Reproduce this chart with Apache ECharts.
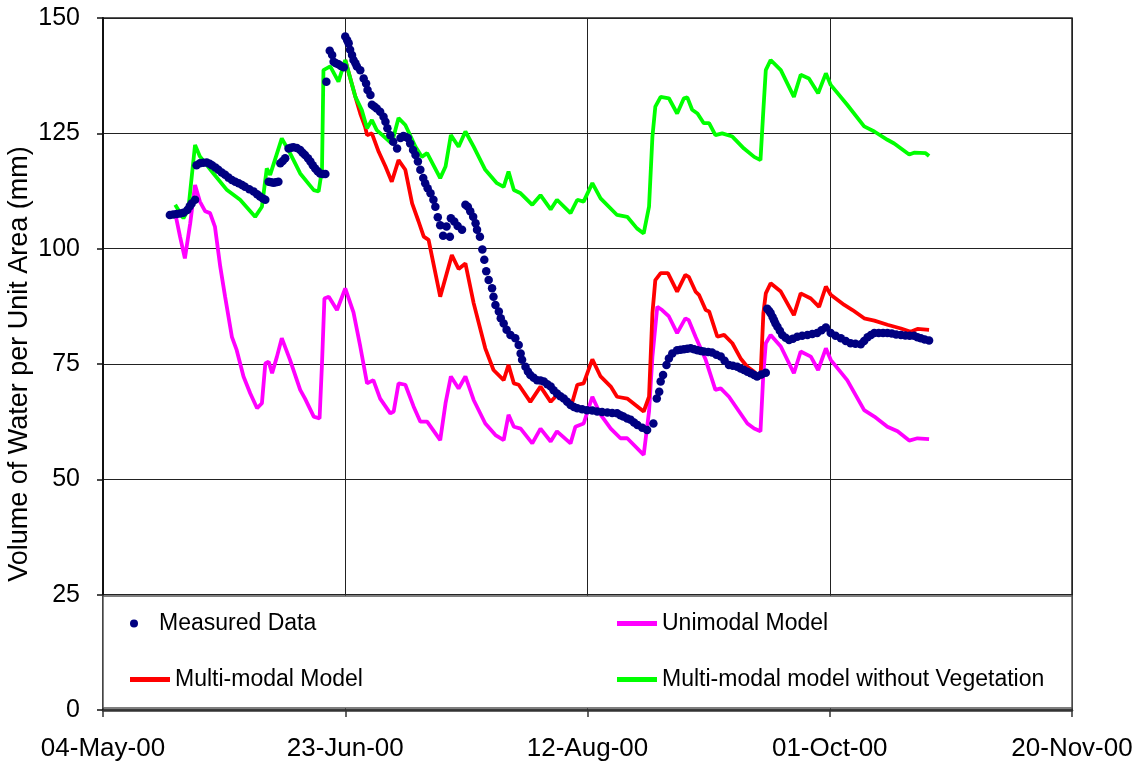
<!DOCTYPE html>
<html>
<head>
<meta charset="utf-8">
<script src="https://cdn.jsdelivr.net/npm/echarts@6/dist/echarts.min.js"></script>
<style>
html,body{margin:0;padding:0;background:#fff;}
#chart{width:1140px;height:765px;}
</style>
</head>
<body>
<div id="chart"></div>
<script>
// x values are days after 04-May-2000
var xTickLabels = ['04-May-00', '23-Jun-00', '12-Aug-00', '01-Oct-00', '20-Nov-00'];
var seriesNames = ['Measured Data', 'Unimodal Model', 'Multi-modal Model', 'Multi-modal model without Vegetation'];

var measured = [
[13.8,107.3],[14.5,107.4],[15.2,107.5],[15.9,107.6],[16.6,107.8],[17.4,108.4],[17.9,109.2],[18.3,109.8],[19.0,110.6],
[19.3,118.1],[20.0,118.5],[20.7,118.6],[21.4,118.7],[22.0,118.4],[22.5,118.1],[23.2,117.6],[23.8,117.1],[24.5,116.5],[25.2,116.0],[25.9,115.4],[26.6,114.9],[27.3,114.5],[28.0,114.2],[28.7,113.8],[29.3,113.4],[30.2,112.9],[31.1,112.4],[31.8,111.8],[32.4,111.3],[33.0,110.9],[33.5,110.6],
[34.2,114.5],[34.7,114.4],[35.2,114.3],[35.7,114.4],[36.2,114.5],
[36.6,118.5],[37.1,119.0],[37.6,119.6],[38.3,121.7],[38.8,121.9],[39.3,122.0],[40.0,121.8],[40.7,121.4],[41.2,120.8],[41.7,120.3],[42.3,119.6],[42.8,118.9],[43.3,118.1],[43.8,117.4],[44.3,116.8],[44.8,116.3],[45.4,116.2],[45.9,116.2],
[46.1,136.2],[46.8,142.9],[47.3,142.0],[47.6,140.5],[48.1,140.2],[48.6,140.0],[49.1,139.6],[49.7,139.3],
[50.0,146.0],[50.4,145.2],[50.7,144.5],[51.0,143.1],[51.4,142.0],[51.7,140.9],[52.1,140.2],[52.4,139.5],[53.1,138.7],[53.8,136.9],[54.3,135.8],[54.6,134.4],[55.2,133.3],[55.5,131.2],[56.0,130.8],[56.5,130.4],[57.2,129.7],[57.9,128.6],[58.3,127.5],[58.7,126.1],[59.3,124.6],[59.9,123.2],[60.7,121.7],
[61.4,124.0],[62.0,124.4],[62.5,124.2],[62.9,124.0],[63.4,122.8],[64.0,121.4],[64.5,120.3],[65.0,118.9],[65.5,117.1],[66.1,115.3],[66.5,114.2],[67.0,113.1],[67.6,112.0],[68.2,110.6],[68.6,109.1],[69.1,106.8],[69.6,105.1],[70.2,102.8],
[70.9,104.8],[71.6,102.6],[71.8,106.6],[72.5,105.9],[73.2,104.9],[74.1,104.1],
[74.8,109.5],[75.3,109.1],[75.8,108.1],[76.4,106.9],[76.9,105.5],[77.2,104.1],[77.8,102.6],[78.3,99.8],[78.7,97.6],[79.1,95.1],[79.6,93.2],[80.3,91.4],[80.6,89.6],[81.0,87.8],[81.7,86.4],[82.1,84.9],[82.7,83.8],[83.3,82.4],[84.1,81.3],[85.1,80.6],[85.8,79.1],[86.2,77.3],[86.5,75.9],[87.2,74.4],[87.7,73.4],[88.2,72.6],[88.9,72.0],[89.6,71.5],[90.3,71.4],[91.0,71.2],[91.7,70.6],[92.4,70.1],[93.0,69.3],[93.7,68.6],[94.4,68.0],[95.1,67.5],[95.8,66.8],[96.5,66.1],[97.2,65.7],[97.9,65.4],[98.9,65.2],[99.9,65.0],[101.0,64.9],[102.0,64.7],[103.0,64.6],[104.1,64.5],[105.1,64.4],[106.1,64.3],[106.8,63.9],[107.4,63.6],[108.2,63.2],[108.9,62.9],[109.6,62.3],[110.3,61.8],[111.3,61.2],[112.3,60.7],
[113.6,62.1],[114.3,67.5],[114.8,69.0],[115.1,71.2],[115.6,72.6],[116.3,74.8],[116.8,76.2],[117.5,77.3],[118.5,78.0],[119.2,78.1],[119.9,78.2],[120.6,78.3],[121.3,78.4],[122.0,78.2],[122.7,78.0],[123.4,77.8],[124.0,77.7],[124.9,77.6],[125.7,77.5],[126.6,77.0],[127.5,76.6],[128.3,75.7],[129.2,74.8],[130.0,74.6],[130.9,74.4],[131.6,74.0],[132.3,73.7],[133.0,73.3],[133.7,73.0],[134.4,72.6],[135.0,72.3],[135.9,72.7],[136.8,73.1],
[137.1,87.0],[137.5,86.5],[137.8,86.0],[138.2,85.2],[138.5,84.5],[138.8,83.8],[139.2,83.1],[139.7,82.2],[140.2,81.3],[140.9,80.7],[141.6,80.2],[142.4,80.5],[143.3,80.9],[144.3,81.1],[145.4,81.3],[146.4,81.5],[147.4,81.7],[148.3,82.3],[149.2,82.9],[150.2,81.7],[151.2,81.1],[152.3,80.6],[153.3,80.0],[154.3,79.5],[155.3,79.4],[156.4,79.3],[157.1,80.0],[157.8,80.8],[158.5,81.3],[159.2,81.7],[160.1,81.7],[161.0,81.7],[161.9,81.7],[162.8,81.6],[163.7,81.4],[164.7,81.3],[165.6,81.2],[166.5,81.1],[167.4,81.1],[168.1,80.8],[168.8,80.6],[169.6,80.3],[170.5,80.1]
];

var unimodal = [
[14.9,107.7],[15.9,102.6],[16.9,97.9],[18.0,105.5],[19.0,113.8],[20.0,110.2],[21.1,108.1],[22.1,107.7],[23.1,104.8],[24.2,96.1],[25.2,89.6],[26.6,80.9],[27.6,78.0],[29.0,72.3],[30.4,68.6],[31.8,65.4],[32.8,66.5],[33.5,75.1],[34.2,75.5],[34.9,73.0],[35.9,76.6],[36.9,80.6],[38.6,75.9],[40.7,69.4],[41.7,67.5],[43.5,63.6],[44.7,63.2],[45.2,75.1],[45.7,89.2],[46.6,89.6],[48.3,86.7],[50.0,91.4],[51.7,86.2],[53.1,78.8],[54.5,70.8],[55.8,71.5],[57.2,67.5],[59.3,64.3],[60.0,64.7],[61.0,70.8],[62.4,70.5],[64.1,65.8],[65.5,62.5],[66.9,62.5],[69.6,58.5],[70.7,66.5],[71.8,72.3],[73.4,69.7],[74.8,72.3],[76.5,67.2],[78.9,62.1],[81.0,59.6],[82.7,58.5],[83.7,64.0],[84.8,61.4],[86.2,61.0],[88.6,57.8],[90.3,61.0],[92.4,58.2],[93.7,60.4],[96.5,57.8],[97.5,61.4],[99.2,62.1],[101.0,67.9],[102.7,64.0],[104.8,61.0],[106.8,58.9],[108.2,58.9],[111.6,55.3],[112.7,64.7],[113.4,76.6],[114.4,87.4],[115.4,86.7],[116.8,85.3],[118.5,81.7],[120.2,84.9],[120.9,84.5],[122.3,80.9],[124.4,75.9],[126.4,69.4],[127.5,69.7],[129.2,67.9],[133.0,62.1],[134.4,61.0],[135.7,60.4],[136.3,73.0],[136.8,79.5],[137.8,81.3],[139.9,78.8],[142.6,73.0],[144.0,77.7],[146.1,76.6],[147.6,73.7],[149.2,78.4],[150.2,75.9],[153.6,71.5],[157.1,65.0],[159.2,63.6],[161.9,61.4],[164.0,60.4],[166.4,58.4],[168.1,58.9],[170.5,58.7]
];

var multiModal = [
[50.0,140.9],[52.1,132.9],[53.1,129.3],[54.1,126.4],[54.5,124.6],[55.5,125.0],[56.9,121.0],[58.3,117.8],[59.6,114.5],[61.0,119.2],[62.4,117.1],[63.8,109.8],[65.1,106.0],[66.2,102.6],[67.2,101.9],[69.6,89.6],[72.0,98.6],[73.4,95.6],[74.8,96.8],[76.5,88.2],[78.9,78.4],[80.6,73.7],[82.7,71.5],[83.7,74.8],[84.8,70.8],[85.8,70.5],[88.2,66.8],[90.3,70.1],[92.4,66.8],[93.7,68.3],[96.8,66.5],[97.9,70.5],[99.2,70.8],[101.0,76.0],[102.7,72.3],[104.8,70.1],[106.1,67.9],[108.2,67.5],[109.9,66.1],[111.6,64.7],[112.7,67.9],[113.4,86.0],[114.0,93.2],[115.1,94.7],[116.6,94.7],[118.5,90.7],[120.2,94.3],[120.9,93.9],[122.3,90.7],[123.0,90.0],[124.4,86.7],[125.1,86.4],[126.8,80.9],[128.2,81.3],[129.9,79.5],[131.6,76.2],[133.0,74.4],[134.4,73.3],[135.7,71.9],[136.3,86.0],[136.8,90.3],[137.8,92.5],[139.9,90.7],[142.6,85.6],[144.0,90.3],[146.1,89.2],[147.8,87.4],[149.2,91.8],[150.2,90.0],[153.0,87.8],[154.7,86.7],[157.1,84.9],[159.2,84.4],[161.9,83.5],[164.7,82.7],[166.7,82.0],[168.1,82.6],[170.5,82.4]
];

var noVegetation = [
[14.9,109.5],[16.6,106.6],[17.6,108.4],[19.0,122.5],[20.0,120.0],[22.8,116.3],[25.6,112.7],[28.3,110.6],[31.4,106.9],[32.8,109.1],[33.8,117.4],[34.5,116.0],[36.9,123.9],[38.6,120.7],[40.7,116.3],[43.5,112.7],[44.5,112.4],[45.2,117.1],[45.5,138.7],[46.9,139.5],[48.6,136.2],[50.0,140.9],[52.1,132.9],[53.4,130.1],[54.5,126.1],[55.5,127.9],[56.5,125.7],[59.6,122.8],[61.0,128.3],[62.4,126.8],[64.5,122.1],[65.8,119.9],[66.9,120.7],[69.6,115.3],[70.7,117.8],[71.8,124.6],[73.4,122.1],[74.8,125.4],[76.5,122.1],[78.9,117.1],[81.3,114.2],[82.7,113.4],[83.7,116.7],[84.8,112.7],[86.2,112.0],[88.6,109.5],[90.3,111.6],[92.4,108.5],[93.7,110.6],[96.5,107.7],[97.9,110.6],[99.2,110.2],[101.0,114.2],[102.7,110.9],[106.1,107.3],[108.2,106.9],[110.2,104.4],[111.6,103.3],[112.7,109.1],[113.4,124.3],[114.0,130.8],[115.1,132.9],[116.8,132.6],[118.5,129.3],[119.9,132.6],[120.6,132.8],[121.6,130.1],[122.7,129.3],[124.0,127.2],[125.1,127.2],[126.4,124.6],[127.8,125.0],[129.9,124.3],[132.3,121.7],[134.4,119.9],[135.7,119.2],[136.3,130.1],[136.8,138.7],[137.8,140.9],[139.9,138.7],[142.6,132.9],[144.0,137.7],[145.7,136.9],[147.6,133.7],[149.2,138.0],[150.2,135.5],[153.6,131.2],[157.1,126.5],[159.2,125.4],[161.9,123.6],[163.3,122.8],[166.4,120.4],[167.4,120.8],[169.8,120.7],[170.5,120.1]
];

var FONT = '"Liberation Sans", Arial, sans-serif';
var chart = echarts.init(document.getElementById('chart'), null, {renderer: 'canvas'});

function lineSeries(name, data, color, z) {
  return {
    name: name, type: 'line', data: data, showSymbol: false, symbol: 'none',
    smooth: false, z: z,
    lineStyle: {color: color, width: 3.8}, itemStyle: {color: color},
    animation: false
  };
}

function legendItem(name, left, top, icon, w, h) {
  return {
    data: [{name: name, icon: icon}],
    left: left, top: top, padding: 0, itemWidth: w, itemHeight: h,
    selectedMode: false, z: 6,
    textStyle: {fontFamily: FONT, fontSize: 23, color: '#000'}
  };
}

var option = {
  backgroundColor: '#fff',
  animation: false,
  grid: {left: 103, top: 18, width: 969, height: 692, show: true, borderColor: '#222', borderWidth: 1.5,
         containLabel: false, outerBoundsMode: 'none'},
  xAxis: {
    type: 'value', min: 0, max: 200, interval: 50,
    axisLine: {show: true, onZero: false, lineStyle: {color: '#333', width: 2.5}},
    axisTick: {show: true, inside: false, length: 7, lineStyle: {color: '#333', width: 1.5}},
    axisLabel: {
      margin: 26, color: '#000', fontFamily: FONT, fontSize: 26,
      formatter: function (v) { return xTickLabels[Math.round(v / 50)]; }
    },
    splitLine: {show: true, lineStyle: {color: '#222', width: 1}}
  },
  yAxis: {
    type: 'value', min: 0, max: 150, interval: 25,
    name: 'Volume of Water per Unit Area (mm)',
    nameLocation: 'middle', nameGap: 70, nameRotate: 90, nameMoveOverlap: false,
    nameTextStyle: {fontFamily: FONT, fontSize: 27, color: '#000'},
    axisLine: {show: true, lineStyle: {color: '#111', width: 2}},
    axisTick: {show: true, inside: false, length: 6, lineStyle: {color: '#111', width: 1.5}},
    axisLabel: {margin: 23, color: '#000', fontFamily: FONT, fontSize: 25},
    splitLine: {show: true, lineStyle: {color: '#222', width: 1}}
  },
  legend: [
    legendItem(seriesNames[0], 130, 612, 'circle', 40, 8),
    legendItem(seriesNames[1], 617, 612, 'rect', 40, 5),
    legendItem(seriesNames[2], 130, 668, 'rect', 40, 5),
    legendItem(seriesNames[3], 617, 668, 'rect', 40, 5)
  ],
  graphic: [{
    type: 'rect', z: 4, silent: true,
    shape: {x: 103, y: 596, width: 969, height: 112},
    style: {fill: '#fff', stroke: '#555', lineWidth: 1.5}
  }],
  series: [
    lineSeries(seriesNames[1], unimodal, '#FF00FF', 2),
    lineSeries(seriesNames[2], multiModal, '#FF0000', 3),
    lineSeries(seriesNames[3], noVegetation, '#00FF00', 4),
    {
      name: seriesNames[0], type: 'scatter', data: measured, z: 5,
      symbol: 'circle', symbolSize: 8.5,
      itemStyle: {color: '#000080', opacity: 1},
      animation: false
    }
  ]
};
chart.setOption(option);
</script>
</body>
</html>
